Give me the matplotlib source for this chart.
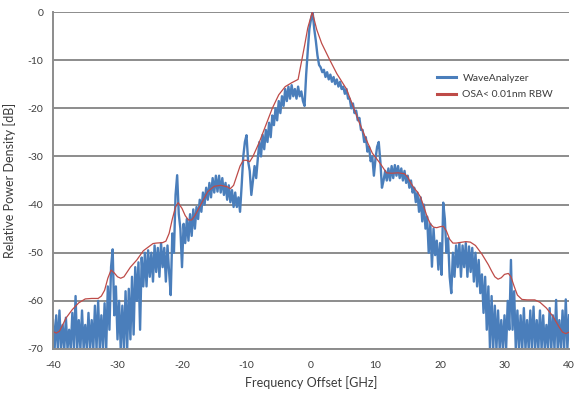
import numpy as np
import matplotlib
matplotlib.use('Agg')
import matplotlib.pyplot as plt

plt.rcParams['font.family'] = ['Lato', 'DejaVu Sans']
plt.rcParams['axes.unicode_minus'] = False

# WaveAnalyzer trace, every 0.25 GHz from -40 to 40
wa_db = [
    -64, -70, -63, -70, -62, -70, -65, -70,
    -63.5, -70, -66, -70, -62.5, -70, -59, -70,
    -64, -70, -62, -70, -65, -70, -62.5, -70,
    -64, -70, -61, -70, -60, -70, -63, -70,
    -60.5, -70, -57, -66, -53, -49.3, -63, -57,
    -68, -60, -70, -61, -70, -58, -70, -57.5,
    -68, -55, -67, -53, -60, -52, -66, -51,
    -57, -50, -57, -49.5, -55, -50, -56, -48.5,
    -54, -49, -55, -48, -53, -49, -56, -48.5,
    -54, -58.8, -46, -50, -38, -33.9, -42, -45,
    -53, -44, -48, -43, -47.5, -42, -46.5, -41,
    -45, -40.5, -43, -39, -41.5, -37.5, -40, -36.5,
    -39, -35.5, -38.5, -34.5, -37.5, -34, -37.3, -34,
    -37.5, -34.5, -38, -35.5, -39, -36, -39.5, -37,
    -40.5, -37.5, -40.5, -38.5, -41.5, -36, -30, -27,
    -25.6, -31, -33, -38, -35, -32, -34.5, -30.5,
    -27, -30, -25.5, -28.5, -24.5, -27, -23, -26,
    -21.5, -23.5, -20, -22.5, -18.5, -21, -17.5, -19.5,
    -16, -18.5, -15.5, -18, -15.2, -17.5, -16, -18,
    -15.5, -17.5, -16.5, -18.5, -19.5, -13, -8, -3.5,
    -1.5, 0, -3.5, -6, -9, -11, -11.5, -12.5,
    -12, -13.5, -12.5, -14, -13, -14.5, -13.5, -15,
    -14, -15.5, -14.5, -16, -15.5, -17, -16, -18,
    -18, -20, -19, -21, -20.5, -22.5, -22, -24.5,
    -24.5, -27, -26, -29, -28, -31, -30, -34,
    -30.5, -28, -27, -31, -36.5, -35, -33, -35,
    -32.5, -35, -32, -34.5, -31.8, -34, -32, -34.5,
    -32.5, -35, -33, -35.5, -34, -36.5, -35, -37.5,
    -36.5, -39.5, -37.5, -41.5, -38.5, -43.5, -40, -45,
    -42.5, -50, -44, -52.9, -45, -50.5, -47.5, -53.5,
    -48, -54.6, -39.6, -43, -50, -47, -55, -58.4,
    -50, -55, -48.5, -53, -48, -55, -48.5, -53,
    -48, -55, -48.7, -54, -49, -56, -50, -57,
    -51.5, -58.4, -54.5, -62.5, -55, -66, -57, -70,
    -59, -70, -61, -70, -62, -70, -64, -70,
    -63, -70, -60, -66, -51.5, -66, -58, -70,
    -62, -70, -63, -70, -61.5, -70, -64, -70,
    -62, -70, -61.2, -70, -64, -70, -62, -70,
    -63, -70, -65, -70, -61.5, -70, -63, -70,
    -59.8, -70, -64, -70, -62, -70, -59.7, -70,
    -63,
]
wa_ghz = np.linspace(-40, 40, len(wa_db))

# OSA trace (< 0.01 nm RBW)
osa_ghz = [-40.2, -39.5, -39, -38.5, -38, -37, -36, -35, -34, -33, -32.5, -32,
           -31.5, -31, -30.5, -30, -29.5, -29, -28.5, -28, -27, -26, -25, -24.5,
           -24, -23, -22.5, -22, -21.5, -21, -20.6, -20, -19.5, -19, -18.5, -18,
           -17, -16, -15, -14, -13, -12.5, -12, -11.5, -11, -10.5, -10, -9.5,
           -9, -8, -7, -6, -5, -4, -3, -2, -1, -0.5, 0.2, 0.9,
           1.65, 2.85, 4, 5.5, 6.5, 7.5, 8.6, 9.5, 10.7, 11.7, 12.5, 13.5,
           14.5, 15, 15.5, 16, 16.5, 17, 17.5, 18, 18.5, 19, 19.5, 20,
           20.5, 21, 21.5, 22, 22.5, 23, 24, 24.7, 25.5, 26.5, 27.5, 28,
           28.5, 29, 29.5, 30, 30.6, 31, 31.5, 32, 32.7, 33.5, 34.7, 35.5,
           36.5, 37.5, 38.5, 39, 39.5, 40.2]
osa_db = [-66.2, -66.7, -66.3, -65, -63.6, -61.8, -60.4, -59.6, -59.5, -59.5, -59, -57.8,
          -55.3, -53.6, -54.2, -55, -55.3, -55, -54, -53, -51.5, -49.6, -48.6, -48.1,
          -48, -47.9, -47.6, -46, -43, -40.5, -39.6, -40.8, -42.3, -43.2, -43.2, -42.3,
          -39.8, -37.3, -36.2, -36, -36.3, -36.7, -36, -34, -32, -30.8, -30.8, -31.1,
          -30, -27, -23.5, -20, -17.2, -15.5, -14.7, -14, -7, -3.3, 0, -3.7,
          -6.5, -9.8, -12.8, -16, -19.5, -23, -26.6, -29.3, -31.4, -33.4, -33.5, -33.4,
          -33.6, -34.3, -35.6, -36.6, -37.4, -38.5, -40.5, -42.5, -44, -44.7, -44.8, -44.6,
          -44.5, -45.5, -47.2, -48, -48, -47.9, -47.7, -47.8, -48.5, -50.3, -52.5, -53.8,
          -55, -55.5, -55.2, -54.5, -54.3, -55, -57, -58.8, -59.7, -59.8, -59.8, -60.3,
          -61.5, -63.2, -65.5, -66.5, -66.8, -66.4]

grid_col = '#8c8c8c'
text_col = '#3c3c3c'

fig = plt.figure(figsize=(5.74, 3.98), dpi=100)
ax = fig.add_axes([53 / 574, 49 / 398, 516 / 574, 337 / 398])

ax.plot(wa_ghz, wa_db, color='#4a7ebb', lw=1.7, label='WaveAnalyzer')
ax.plot(osa_ghz, osa_db, color='#be4b48', lw=0.9, label='OSA< 0.01nm RBW')

ax.set_xlim(-40, 40)
ax.set_ylim(-70, 0)
ax.set_xticks(range(-40, 41, 10))
ax.set_yticks(range(-70, 1, 10))
ax.yaxis.grid(True, color=grid_col, lw=1.4)
ax.set_axisbelow(True)
for side in ['top', 'right']:
    ax.spines[side].set_visible(False)
for side in ['left', 'bottom']:
    ax.spines[side].set_color(grid_col)
    ax.spines[side].set_linewidth(1.4)
ax.tick_params(length=0, labelsize=7.5, labelcolor=text_col, pad=9)
ax.tick_params(axis='y', pad=7)

ax.set_xlabel('Frequency Offset [GHz]', fontsize=9, color=text_col, labelpad=4)
ax.set_ylabel('Relative Power Density [dB]', fontsize=9, color=text_col, labelpad=8)

leg = ax.legend(loc='upper left', bbox_to_anchor=(428 / 574, 1 - 64 / 398),
                bbox_transform=fig.transFigure, frameon=False, fontsize=7.5,
                handlelength=1.8, handletextpad=0.6, labelspacing=0.7,
                labelcolor=text_col)
for line in leg.get_lines():
    line.set_linewidth(2.2)

fig.savefig('out.png', dpi=100)
